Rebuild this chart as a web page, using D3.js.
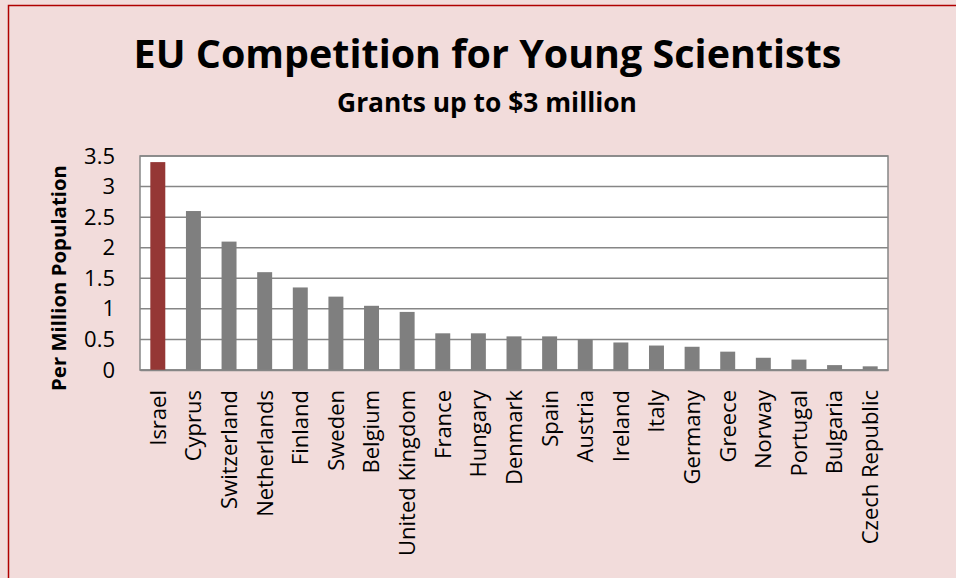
<!DOCTYPE html>
<html>
<head>
<meta charset="utf-8">
<script src="https://cdn.jsdelivr.net/npm/d3@7/dist/d3.min.js"></script>
<style>
html,body{margin:0;padding:0;background:#f2dcdb;}
svg{display:block;}
text{font-family:"Open Sans","Noto Sans",sans-serif;fill:#000;}
</style>
</head>
<body>
<svg id="chart" width="956" height="578"></svg>
<script>
const countries = ["Israel","Cyprus","Switzerland","Netherlands","Finland","Sweden","Belgium","United Kingdom","France","Hungary","Denmark","Spain","Austria","Ireland","Italy","Germany","Greece","Norway","Portugal","Bulgaria","Czech Republic"];
const values = [3.4,2.6,2.1,1.6,1.35,1.2,1.05,0.95,0.6,0.6,0.55,0.55,0.5,0.45,0.4,0.38,0.3,0.2,0.17,0.08,0.06];
const yTicks = [0,0.5,1,1.5,2,2.5,3,3.5];
const titleText = "EU Competition for Young Scientists";
const subtitleText = "Grants up to $3 million";
const yTitleText = "Per Million Population";

const svg = d3.select("#chart");
const W = 956, H = 578;

// background and frame
svg.append("rect").attr("x",0).attr("y",0).attr("width",W).attr("height",H).attr("fill","#f2dcdb");
svg.append("path").attr("d","M8.5,578 L8.5,5.5 L956,5.5").attr("fill","none").attr("stroke","#b00000").attr("stroke-width",1.5);

const plot = {left:140, right:888, top:156, bottom:370};

const x = d3.scaleBand().domain(countries).range([plot.left, plot.right]).paddingInner(0.58).paddingOuter(0.29);
const y = d3.scaleLinear().domain([0,3.5]).range([plot.bottom, plot.top]);

// plot area
svg.append("rect").attr("x",plot.left).attr("y",plot.top).attr("width",plot.right-plot.left).attr("height",plot.bottom-plot.top)
  .attr("fill","#ffffff").attr("stroke","#868686").attr("stroke-width",1.5);

// gridlines
svg.append("g").selectAll("line").data(yTicks).join("line")
  .attr("x1",plot.left).attr("x2",plot.right)
  .attr("y1",d=>y(d)).attr("y2",d=>y(d))
  .attr("stroke","#868686").attr("stroke-width",1.5);

// bars
svg.append("g").selectAll("rect").data(countries).join("rect")
  .attr("x",d=>x(d)).attr("width",x.bandwidth())
  .attr("y",(d,i)=>y(values[i])).attr("height",(d,i)=>y(0)-y(values[i]))
  .attr("fill",(d,i)=>i===0?"#953735":"#7f7f7f");

// y axis
const yAxis = d3.axisLeft(y).tickValues(yTicks).tickFormat(d3.format("~g")).tickSize(0).tickPadding(25);
const gy = svg.append("g").attr("transform",`translate(${plot.left},0)`).call(yAxis);
gy.select(".domain").remove();
gy.selectAll("text").style("font-family",'"Open Sans","Noto Sans",sans-serif').style("font-size","22px").attr("fill","#000");

// x axis
const xAxis = d3.axisBottom(x).tickSize(0).tickPadding(0);
const gx = svg.append("g").attr("transform",`translate(0,${plot.bottom})`).call(xAxis);
gx.select(".domain").attr("stroke","#868686").attr("stroke-width",1.5);
gx.selectAll("text")
  .style("font-family",'"Open Sans","Noto Sans",sans-serif').style("font-size","22px").attr("fill","#000")
  .attr("text-anchor","end")
  .attr("transform","rotate(-90)")
  .attr("x",-20).attr("y",0).attr("dy","0.36em");

// fit text to width helper
function fitText(sel, target){
  const len = sel.node().getComputedTextLength();
  const fs = parseFloat(sel.style("font-size"));
  sel.style("font-size",(fs*target/len)+"px");
}

const title = svg.append("text").attr("x",487.5).attr("y",68).attr("text-anchor","middle")
  .style("font-weight","bold").style("font-size","40px").text(titleText);
fitText(title,708);

const sub = svg.append("text").attr("x",487).attr("y",112).attr("text-anchor","middle")
  .style("font-weight","bold").style("font-size","22px").text(subtitleText);
fitText(sub,300);

const yt = svg.append("text").attr("transform","translate(66,278) rotate(-90)").attr("text-anchor","middle")
  .style("font-weight","bold").style("font-size","20px").text(yTitleText);
fitText(yt,226);
</script>
</body>
</html>
